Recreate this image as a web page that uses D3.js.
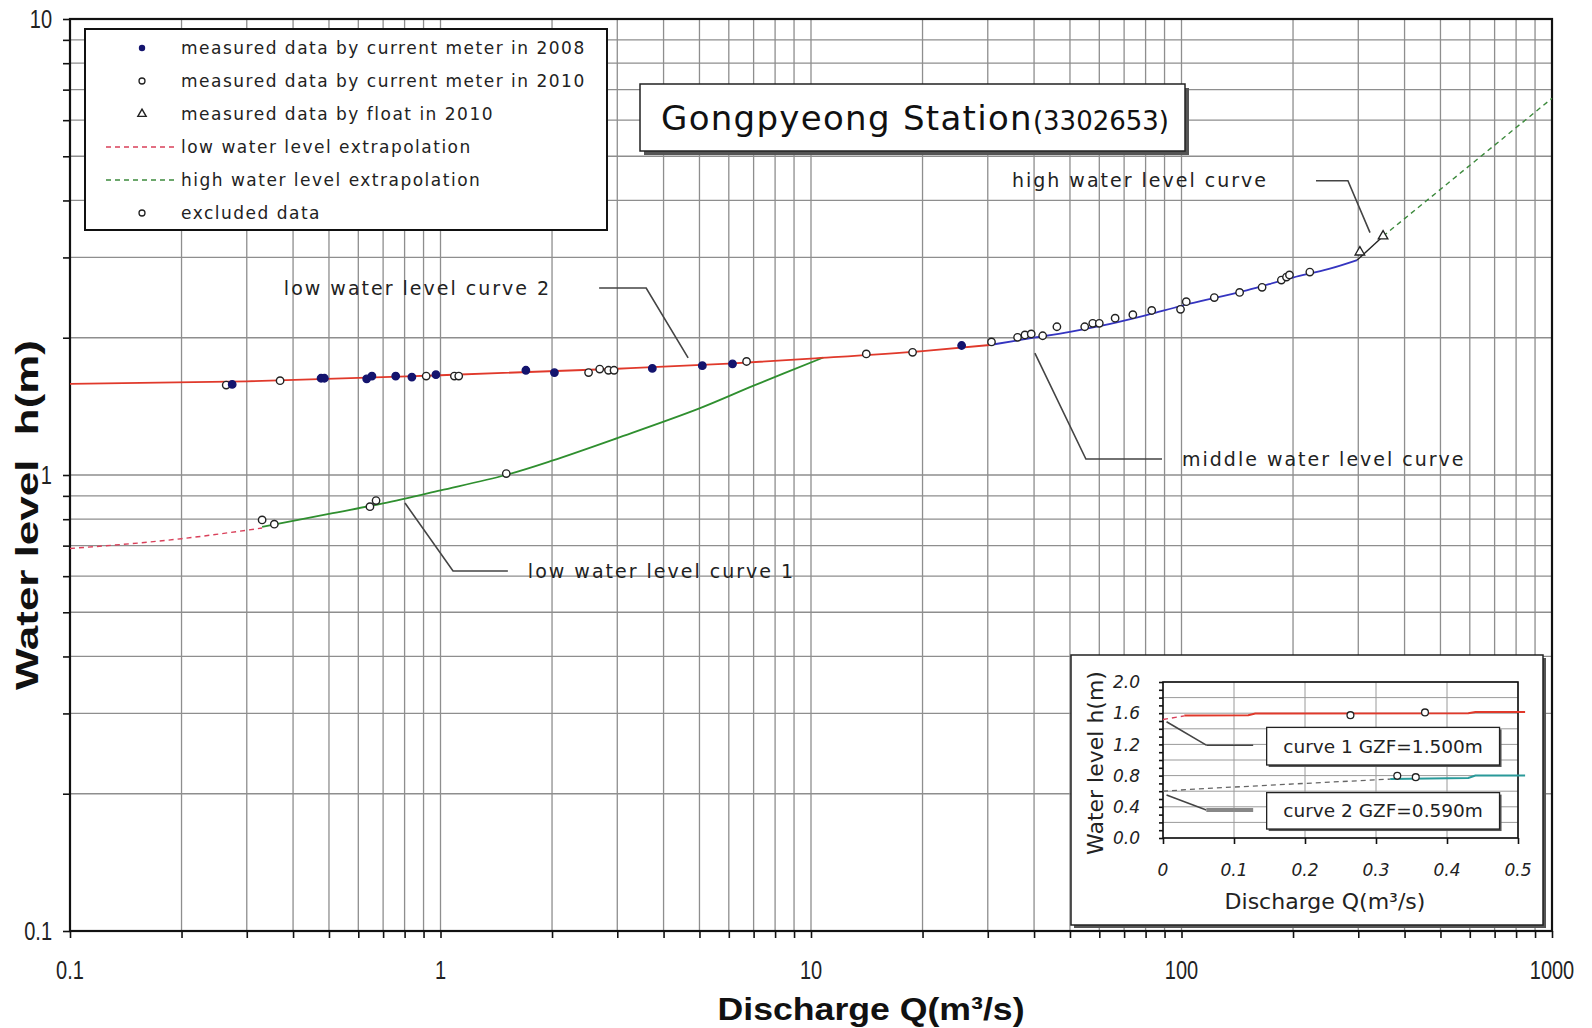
<!DOCTYPE html>
<html>
<head>
<meta charset="utf-8">
<script src="https://cdnjs.cloudflare.com/ajax/libs/d3/7.8.5/d3.min.js"></script>
<style>
body { margin: 0; background: #fff; }
svg { font-family: "DejaVu Sans", sans-serif; }
.grid line { stroke: #8e8e8e; stroke-width: 1.3px; }
.frame { fill: none; stroke: #111; stroke-width: 2.2px; }
.axis path { display: none; }
.axis line { stroke: #111; stroke-width: 1.6px; }
.tick-label { font-family: "Liberation Sans", Arial, sans-serif; font-size: 25px; fill: #222; }
.ann { font-size: 19px; letter-spacing: 2px; fill: #222; }
.leader { fill: none; stroke: #444; stroke-width: 1.6px; }
.legend text { font-size: 17px; letter-spacing: 1.5px; fill: #222; }
.inset .grid line { stroke: #9a9a9a; stroke-width: 1px; }
.inset .tl { font-size: 17px; font-style: italic; fill: #222; }
</style>
</head>
<body>
<svg id="chart" width="1592" height="1028"></svg>
<script>
// ---- data (Q in m3/s, h in m) ----
var cm2008 = [[0.274,1.58],[0.476,1.63],[0.486,1.63],[0.632,1.625],[0.653,1.648],[0.757,1.648],
  [0.837,1.64],[0.972,1.66],[1.70,1.697],[2.03,1.677],[3.73,1.713],[5.09,1.737],[6.14,1.753],[25.5,1.923]];
var cm2010 = [[0.369,1.61],[0.915,1.648],[1.09,1.648],[1.12,1.648],[2.51,1.677],[2.69,1.707],[2.84,1.697],
  [2.94,1.697],[6.70,1.774],[14.1,1.843],[18.8,1.858],[30.7,1.958],[36.1,2.004],[37.8,2.028],[39.3,2.039],
  [42.2,2.02],[46.1,2.114],[54.8,2.114],[57.6,2.151],[60.0,2.151],[66.2,2.208],[73.9,2.247],[83.1,2.295],
  [99.4,2.308],[103,2.399],[122.6,2.45],[143.5,2.514],[165,2.58],[186,2.676],[192,2.717],[195.6,2.746],[222,2.786]];
var float2010 = [[303,3.08],[350,3.34]];
var excluded = [[0.264,1.575],[0.330,0.797],[0.356,0.78],[0.645,0.852],[0.670,0.879],[1.505,1.007]];

var lowCurve2 = [[0.1,1.585],[0.3,1.605],[1,1.655],[3,1.71],[6,1.755],[10,1.80],[20,1.87],[30.4,1.928]];
var lowCurve1 = [[0.33,0.77],[0.5,0.822],[0.7,0.866],[1,0.925],[1.5,1.0],[2,1.075],[3,1.205],[5,1.40],[7,1.57],[10.8,1.81]];
var lowExtrap = [[0.1,0.69],[0.2,0.725],[0.33,0.765]];
var middleCurve = [[30.4,1.928],[40,2.0],[50,2.06],[60,2.12],[80,2.24],[100,2.35],[150,2.54],[200,2.71],[250,2.83],[298,2.96]];
var highCurve = [[298,2.96],[350,3.34]];
var highExtrap = [[350,3.34],[1000,6.7]];

var xLabels = [0.1, 1, 10, 100, 1000];
var yLabels = [0.1, 1, 10];

// annotations: leader polyline in data units
var notes = [
  {text: "low water level curve 2", pts: [[2.68,2.57],[3.59,2.57],[4.66,1.806]], anchor: "end", dx: -48},
  {text: "middle water level curve", pts: [[88.6,1.084],[55.2,1.084],[40.2,1.851]], anchor: "start", dx: 20},
  {text: "high water level curve", pts: [[230.7,4.42],[281.3,4.42],[322.7,3.40]], anchor: "end", dx: -48},
  {text: "low water level curve 1", pts: [[1.52,0.616],[1.081,0.616],[0.802,0.868]], anchor: "start", dx: 20}
];

// inset (linear, small discharges)
var insetCurve1 = [[0.03,1.57],[0.12,1.575],[0.13,1.595],[0.43,1.60],[0.44,1.615],[0.51,1.615]];
var insetExtrap1 = [[0,1.52],[0.03,1.565]];
var insetCurve2 = [[0.32,0.755],[0.43,0.77],[0.44,0.80],[0.51,0.80]];
var insetExtrap2 = [[0,0.60],[0.05,0.63],[0.2,0.70],[0.32,0.755]];
var insetNotes = [
  {text: "curve 1 GZF=1.500m", pts: [[0.127,1.19],[0.061,1.19],[0.005,1.49]], box: [0.146,0.474,1.418,0.936], thick: false},
  {text: "curve 2 GZF=0.590m", pts: [[0.127,0.36],[0.061,0.36],[0.005,0.55]], box: [0.146,0.474,0.582,0.115], thick: true}
];
var insetXTicks = [0, 0.1, 0.2, 0.3, 0.4, 0.5];
var insetYTicks = [0.0, 0.4, 0.8, 1.2, 1.6, 2.0];

// ---- chart ----
var svg = d3.select("#chart");
var L = 70, R = 1552, T = 19, B = 931;
var x = d3.scaleLog().domain([0.1, 1000]).range([L, R]);
var y = d3.scaleLog().domain([0.1, 10]).range([B, T]);

var grid = svg.append("g").attr("class", "grid");
grid.selectAll("line.v").data(x.ticks()).enter().append("line")
  .attr("x1", d => x(d)).attr("x2", d => x(d)).attr("y1", T).attr("y2", B);
grid.selectAll("line.h").data(y.ticks()).enter().append("line")
  .attr("y1", d => y(d)).attr("y2", d => y(d)).attr("x1", L).attr("x2", R);

svg.append("g").attr("class", "axis").attr("transform", "translate(0," + B + ")")
  .call(d3.axisBottom(x).tickValues(x.ticks()).tickSize(7).tickFormat(""));
svg.append("g").attr("class", "axis").attr("transform", "translate(" + L + ",0)")
  .call(d3.axisLeft(y).tickValues(y.ticks()).tickSize(7).tickFormat(""));
svg.append("rect").attr("class", "frame").attr("x", L).attr("y", T).attr("width", R - L).attr("height", B - T);

svg.selectAll("text.xl").data(xLabels).enter().append("text")
  .attr("class", "tick-label").attr("text-anchor", "middle")
  .attr("transform", d => "translate(" + x(d) + ",979) scale(0.8,1)")
  .text(d => d);
svg.selectAll("text.yl").data(yLabels).enter().append("text")
  .attr("class", "tick-label").attr("text-anchor", "end")
  .attr("transform", d => "translate(52," + (y(d) + 9) + ") scale(0.8,1)")
  .text(d => d);

// axis titles
svg.append("text").attr("transform", "translate(871,1020)").attr("text-anchor", "middle")
  .attr("textLength", 307).attr("lengthAdjust", "spacingAndGlyphs")
  .style("font-family", "'Liberation Sans', Arial, sans-serif").style("font-weight", "bold")
  .style("font-size", "32px").style("fill", "#111").text("Discharge Q(m³/s)");
svg.append("text").attr("transform", "translate(38,515) rotate(-90)").attr("text-anchor", "middle")
  .attr("textLength", 350).attr("lengthAdjust", "spacingAndGlyphs")
  .style("font-family", "'Liberation Sans', Arial, sans-serif").style("font-weight", "bold")
  .style("font-size", "31px").style("fill", "#111").style("white-space", "pre").text("Water level  h(m)");

// curves
var line = d3.line().x(d => x(d[0])).y(d => y(d[1])).curve(d3.curveMonotoneX);
var smooth = d3.line().x(d => x(d[0])).y(d => y(d[1])).curve(d3.curveCatmullRom);
function path(data, color, w, dash, gen) {
  svg.append("path").datum(data).attr("d", gen || line).attr("fill", "none")
    .attr("stroke", color).attr("stroke-width", w).attr("stroke-dasharray", dash || null);
}
path(lowExtrap, "#d9405a", 1.4, "5,4");
path(highExtrap, "#3d8a3d", 1.4, "5,4");
path(lowCurve1, "#2f8f2f", 1.8, null, smooth);
path(lowCurve2, "#e0392b", 1.8);
path(middleCurve, "#3535c0", 1.8);
path(highCurve, "#222", 1.4);

// leaders
notes.forEach(function(n) {
  svg.append("path").attr("class", "leader")
    .attr("d", d3.line().x(d => x(d[0])).y(d => y(d[1]))(n.pts));
  svg.append("text").attr("class", "ann").attr("text-anchor", n.anchor)
    .attr("x", x(n.pts[0][0]) + n.dx).attr("y", y(n.pts[0][1])).attr("dy", "0.35em").text(n.text);
});

// points
function circles(data, fill, stroke) {
  svg.append("g").selectAll("circle").data(data).enter().append("circle")
    .attr("cx", d => x(d[0])).attr("cy", d => y(d[1])).attr("r", 3.7)
    .attr("fill", fill).attr("stroke", stroke).attr("stroke-width", 1.4);
}
circles(excluded, "#fff", "#222");
circles(cm2010, "#fff", "#222");
circles(cm2008, "#14146e", "#14146e");
var tri = d3.symbol().type(d3.symbolTriangle).size(40);
svg.append("g").selectAll("path").data(float2010).enter().append("path")
  .attr("d", tri).attr("transform", d => "translate(" + x(d[0]) + "," + y(d[1]) + ")")
  .attr("fill", "#fff").attr("stroke", "#222").attr("stroke-width", 1.3);

// legend
var lg = svg.append("g").attr("class", "legend");
lg.append("rect").attr("x", 85).attr("y", 29).attr("width", 522).attr("height", 201)
  .attr("fill", "#fff").attr("stroke", "#111").attr("stroke-width", 2);
var legendItems = [
  {label: "measured data by current meter in 2008", kind: "filled"},
  {label: "measured data by current meter in 2010", kind: "open"},
  {label: "measured data by float in 2010", kind: "tri"},
  {label: "low water level extrapolation", kind: "dash", color: "#d9405a"},
  {label: "high water level extrapolation", kind: "dash", color: "#3d8a3d"},
  {label: "excluded data", kind: "open"}
];
legendItems.forEach(function(it, i) {
  var yy = 48 + i * 33;
  if (it.kind === "filled") lg.append("circle").attr("cx", 142).attr("cy", yy).attr("r", 3.2).attr("fill", "#14146e");
  if (it.kind === "open") lg.append("circle").attr("cx", 142).attr("cy", yy).attr("r", 3).attr("fill", "#fff").attr("stroke", "#222").attr("stroke-width", 1.3);
  if (it.kind === "tri") lg.append("path").attr("d", d3.symbol().type(d3.symbolTriangle).size(30)).attr("transform", "translate(142," + yy + ")").attr("fill", "#fff").attr("stroke", "#222").attr("stroke-width", 1.4);
  if (it.kind === "dash") lg.append("line").attr("x1", 106).attr("x2", 176).attr("y1", yy).attr("y2", yy).attr("stroke", it.color).attr("stroke-width", 1.4).attr("stroke-dasharray", "5,4");
  lg.append("text").attr("x", 181).attr("y", yy).attr("dy", "0.35em").text(it.label);
});

// title box
svg.append("rect").attr("x", 644).attr("y", 88).attr("width", 545).attr("height", 67).attr("fill", "#555");
svg.append("rect").attr("x", 640).attr("y", 84).attr("width", 545).attr("height", 67)
  .attr("fill", "#fff").attr("stroke", "#222").attr("stroke-width", 1.5);
var tt = svg.append("text").attr("x", 661).attr("y", 130).style("fill", "#111");
tt.append("tspan").style("font-size", "34px").style("letter-spacing", "1.3px").text("Gongpyeong Station");
tt.append("tspan").style("font-size", "26px").text("(3302653)");

// ---- inset ----
var ins = svg.append("g").attr("class", "inset");
ins.append("rect").attr("x", 1074).attr("y", 658).attr("width", 472).attr("height", 270).attr("fill", "#555");
ins.append("rect").attr("x", 1071).attr("y", 655).attr("width", 472).attr("height", 270)
  .attr("fill", "#fff").attr("stroke", "#222").attr("stroke-width", 1.5);
var ix = d3.scaleLinear().domain([0, 0.5]).range([1163, 1518]);
var iy = d3.scaleLinear().domain([0, 2]).range([838, 682]);
var ig = ins.append("g").attr("class", "grid");
ig.selectAll("line.v").data(d3.range(0, 0.51, 0.1)).enter().append("line")
  .attr("x1", d => ix(d)).attr("x2", d => ix(d)).attr("y1", iy(2)).attr("y2", iy(0));
ig.selectAll("line.h").data(d3.range(0, 2.01, 0.2)).enter().append("line")
  .attr("y1", d => iy(d)).attr("y2", d => iy(d)).attr("x1", ix(0)).attr("x2", ix(0.5));
ins.append("g").attr("class", "axis").attr("transform", "translate(0," + iy(0) + ")")
  .call(d3.axisBottom(ix).tickValues(insetXTicks).tickSize(6).tickFormat(""));
ins.append("g").attr("class", "axis").attr("transform", "translate(" + ix(0) + ",0)")
  .call(d3.axisLeft(iy).tickValues(d3.range(0, 2.01, 0.1)).tickSize(4).tickFormat(""));
ins.append("rect").attr("x", ix(0)).attr("y", iy(2)).attr("width", ix(0.5) - ix(0)).attr("height", iy(0) - iy(2))
  .attr("fill", "none").attr("stroke", "#111").attr("stroke-width", 1.6);
ins.selectAll("text.ixl").data(insetXTicks).enter().append("text").attr("class", "tl")
  .attr("x", d => ix(d)).attr("y", 876).attr("text-anchor", "middle").text(d => d);
ins.selectAll("text.iyl").data(insetYTicks).enter().append("text").attr("class", "tl")
  .attr("x", 1140).attr("y", d => iy(d)).attr("dy", "0.36em").attr("text-anchor", "end").text(d => d.toFixed(1));
ins.append("text").attr("x", 1325).attr("y", 901).attr("dy", "0.35em").attr("text-anchor", "middle")
  .style("font-size", "22px").style("fill", "#222").text("Discharge Q(m³/s)");
ins.append("text").attr("transform", "translate(1095,763) rotate(-90)").attr("dy", "0.35em").attr("text-anchor", "middle")
  .style("font-size", "22px").style("fill", "#222").text("Water level h(m)");

var iline = d3.line().x(d => ix(d[0])).y(d => iy(d[1]));
function ipath(data, color, w, dash) {
  ins.append("path").datum(data).attr("d", iline).attr("fill", "none")
    .attr("stroke", color).attr("stroke-width", w).attr("stroke-dasharray", dash || null);
}
ipath(insetExtrap1, "#d9405a", 1.4, "5,4");
ipath(insetCurve1, "#e0392b", 2);
ipath(insetExtrap2, "#666", 1.3, "5,4");
ipath(insetCurve2, "#2a9a9a", 2);
insetNotes.forEach(function(n) {
  ins.append("path").attr("class", "leader")
    .attr("d", iline(n.pts.slice(1)));
  ins.append("path").attr("class", "leader")
    .style("stroke", n.thick ? "#888" : "#444").style("stroke-width", n.thick ? "4px" : "1.6px")
    .attr("d", iline(n.pts.slice(0, 2)));
  var b = n.box;
  ins.append("rect").attr("x", ix(b[0]) + 2).attr("y", iy(b[2]) + 2).attr("width", ix(b[1]) - ix(b[0]))
    .attr("height", iy(b[3]) - iy(b[2])).attr("fill", "#555");
  ins.append("rect").attr("x", ix(b[0])).attr("y", iy(b[2])).attr("width", ix(b[1]) - ix(b[0]))
    .attr("height", iy(b[3]) - iy(b[2])).attr("fill", "#fff").attr("stroke", "#222").attr("stroke-width", 1.3);
  ins.append("text").attr("x", (ix(b[0]) + ix(b[1])) / 2).attr("y", (iy(b[2]) + iy(b[3])) / 2)
    .attr("dy", "0.36em").attr("text-anchor", "middle").style("font-size", "18.5px").style("fill", "#222").text(n.text);
});
var insetPts = excluded.concat(cm2010).filter(d => d[0] <= 0.5);
ins.selectAll("circle").data(insetPts).enter().append("circle")
  .attr("cx", d => ix(d[0])).attr("cy", d => iy(d[1])).attr("r", 3.4)
  .attr("fill", "#fff").attr("stroke", "#222").attr("stroke-width", 1.3);
</script>
</body>
</html>
